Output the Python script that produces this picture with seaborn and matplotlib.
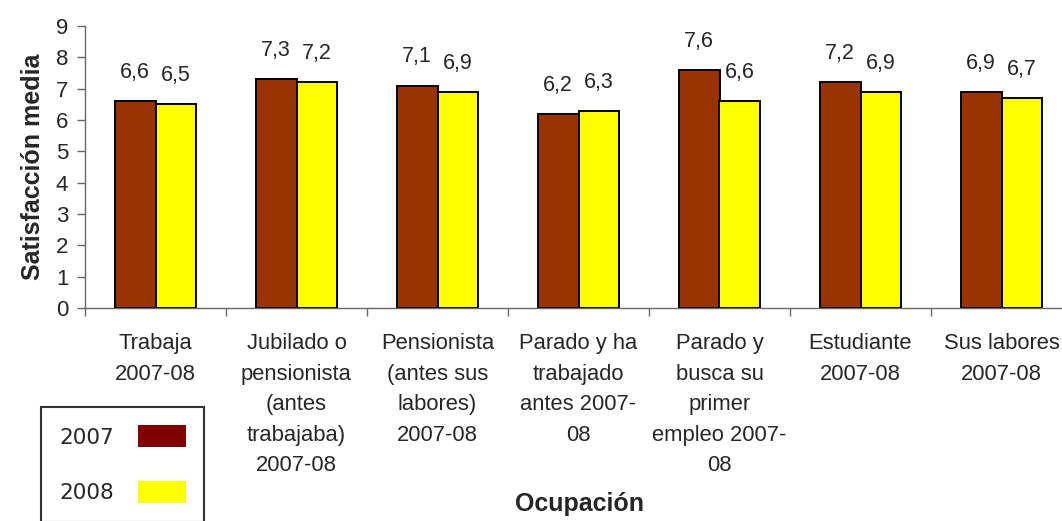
import pandas as pd
import matplotlib.pyplot as plt
import seaborn as sns
from matplotlib.patches import Patch

# Datos
categorias = [
    "Trabaja\n2007-08",
    "Jubilado o\npensionista\n(antes\ntrabajaba)\n2007-08",
    "Pensionista\n(antes sus\nlabores)\n2007-08",
    "Parado y ha\ntrabajado\nantes 2007-\n08",
    "Parado y\nbusca su\nprimer\nempleo 2007-\n08",
    "Estudiante\n2007-08",
    "Sus labores\n2007-08",
]
anios = ["2007", "2008"]
valores_2007 = [6.6, 7.3, 7.1, 6.2, 7.6, 7.2, 6.9]
valores_2008 = [6.5, 7.2, 6.9, 6.3, 6.6, 6.9, 6.7]
colores_barras = {"2007": "#993300", "2008": "#FFFF00"}
colores_leyenda = {"2007": "#800000", "2008": "#FFFF00"}

df = pd.DataFrame({
    "Ocupacion": categorias * 2,
    "Anio": ["2007"] * len(categorias) + ["2008"] * len(categorias),
    "Satisfaccion": valores_2007 + valores_2008,
})

sns.set_style("white")
plt.rcParams["font.family"] = ["Liberation Sans", "DejaVu Sans"]

fig = plt.figure(figsize=(10.62, 5.21), dpi=100)
ax = fig.add_axes([85 / 1062, 1 - 308 / 521, 987 / 1062, 282 / 521])

sns.barplot(data=df, x="Ocupacion", y="Satisfaccion", hue="Anio",
            hue_order=anios, order=categorias, palette=colores_barras,
            saturation=1, width=0.58, gap=0, edgecolor="black",
            linewidth=1.4, legend=False, ax=ax)

for cont in ax.containers:
    ax.bar_label(cont, labels=[f"{v:.1f}".replace(".", ",") for v in cont.datavalues],
                 padding=13, fontsize=15.5)

ax.set_ylim(0, 9)
ax.set_xlim(-0.5, len(categorias) - 0.5)
ax.set_yticks(range(0, 10))
ax.tick_params(axis="y", labelsize=16, length=6, width=1, color="#666666",
               direction="out", left=True, pad=6)

# ticks en los limites de las categorias, etiquetas centradas
ax.set_xticks([i - 0.5 for i in range(len(categorias) + 1)])
ax.set_xticklabels([])
ax.set_xticks(range(len(categorias)), minor=True)
ax.set_xticklabels(categorias, minor=True, fontsize=15.8, linespacing=1.6,
                   va="top")
ax.tick_params(axis="x", which="major", length=6, width=1, color="#666666",
               direction="out", bottom=True)
ax.tick_params(axis="x", which="minor", length=0, pad=18)

for s in ["top", "right"]:
    ax.spines[s].set_visible(False)
for s in ["left", "bottom"]:
    ax.spines[s].set_color("#666666")
    ax.spines[s].set_linewidth(1)

ax.set_xlabel("")
ax.set_ylabel("Satisfacción media", fontsize=18, fontweight="bold", labelpad=8)
fig.text(580 / 1062, 1 - 504 / 521, "Ocupación", fontsize=18,
         fontweight="bold", ha="center", va="center")

handles = [Patch(facecolor=colores_leyenda[a], edgecolor="none") for a in anios]
leg = fig.legend(handles, anios, loc="upper left",
                 bbox_to_anchor=(41 / 1062, 1 - 407 / 521),
                 bbox_transform=fig.transFigure, markerfirst=False,
                 frameon=True, fancybox=False, edgecolor="black",
                 prop={"family": "DejaVu Sans", "size": 15.5},
                 handlelength=2.25, handleheight=1.2, handletextpad=1.1,
                 labelspacing=1.55, borderpad=0.85, borderaxespad=0)
leg.get_frame().set_linewidth(1.5)

plt.savefig("out.png", dpi=100)
